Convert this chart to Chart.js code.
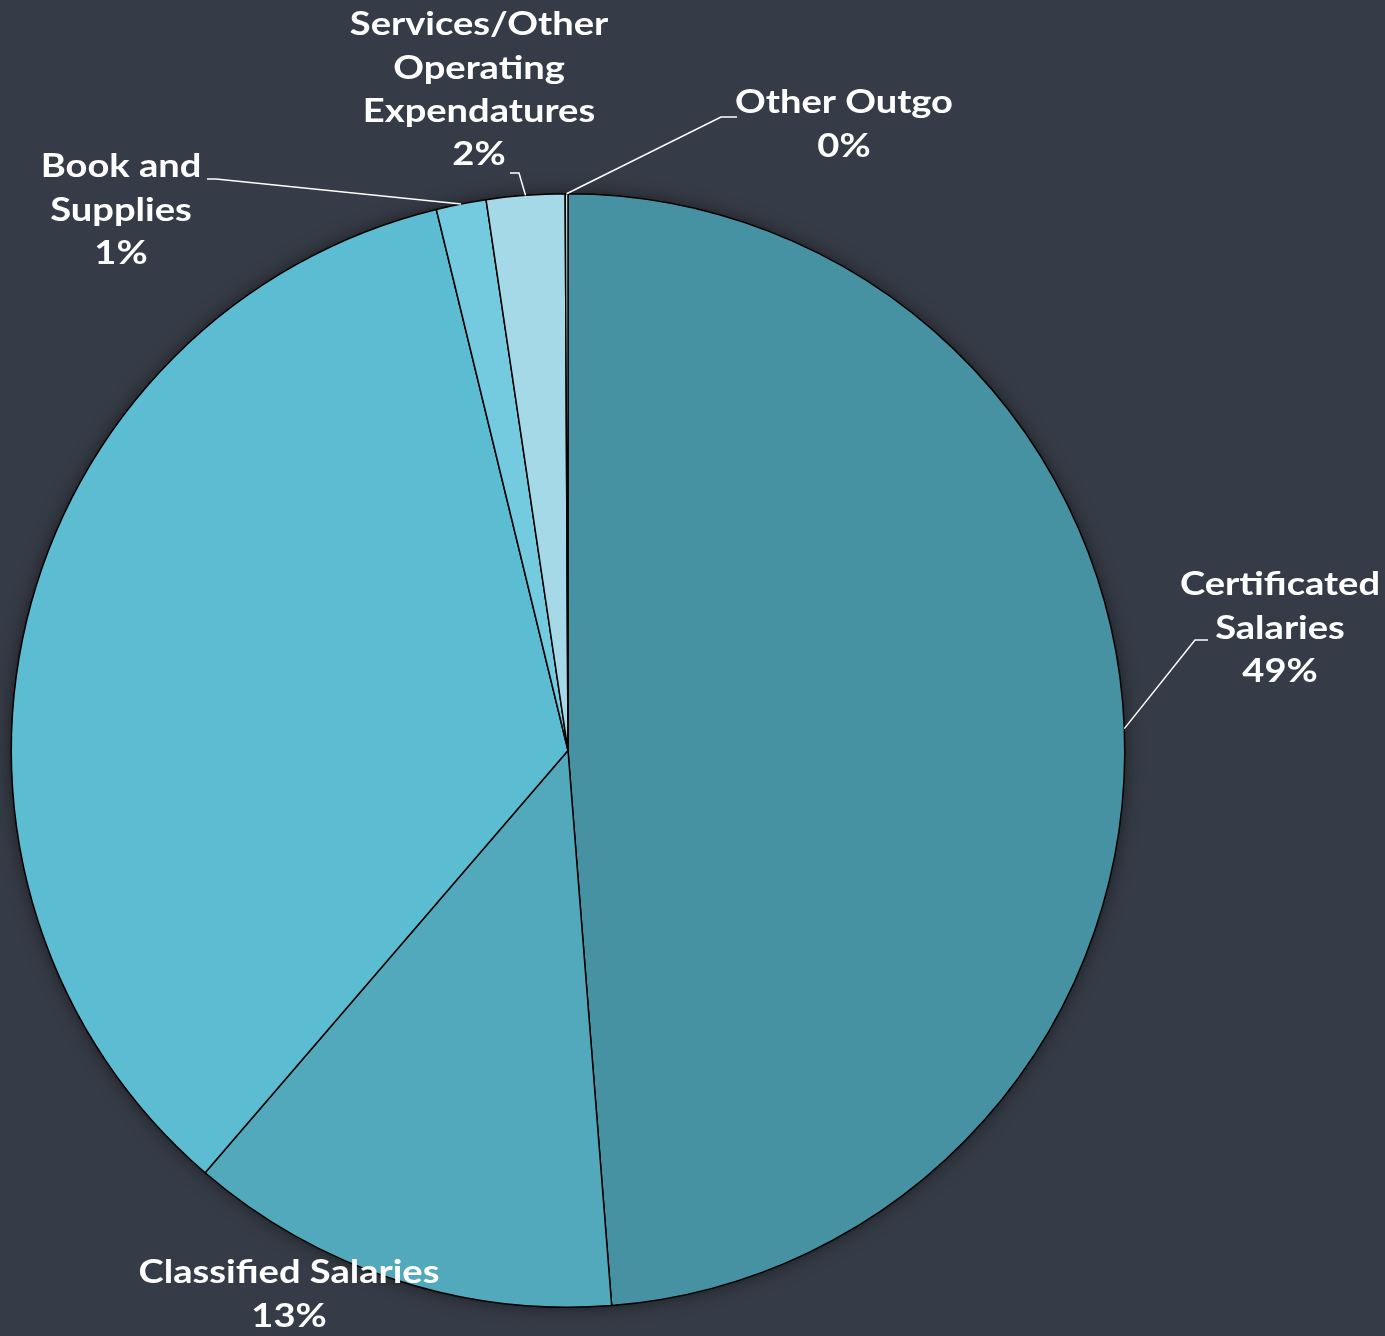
<!DOCTYPE html>
<html>
<head>
<meta charset="utf-8">
<script src="https://cdn.jsdelivr.net/npm/chart.js@4"></script>
<style>
  html, body { margin: 0; padding: 0; background: #363c47; }
  #wrap { width: 1385px; height: 1336px; position: relative; }
</style>
</head>
<body>
<div id="wrap"><canvas id="pieChart"></canvas></div>
<script>
// data (share of total, %)
const categories = ['Certificated Salaries', 'Classified Salaries', 'Employee Benefits',
                    'Book and Supplies', 'Services/Other Operating Expendatures', 'Other Outgo'];
const shares = [48.75, 12.55, 34.9, 1.45, 2.27, 0.08];
const sliceColors = ['#4692a2', '#52a9bc', '#5bbcd2', '#74cbdf', '#a6d9e7', '#c4e6ef'];

// label text lines per slice (null = no label shown)
const labelLines = [
  ['Certificated', 'Salaries'],
  ['Classified Salaries'],
  null,
  ['Book and', 'Supplies'],
  ['Services/Other', 'Operating', 'Expendatures'],
  ['Other Outgo']
];

// where each label sits and how its leader line bends
const labelPlace = [
  { x: 1280, y: 585, elbow: [1195, 640], end: [1208, 640] },
  { x: 289, y: 1273 },
  null,
  { x: 121, y: 167, elbow: [216, 179], end: [207, 179] },
  { x: 479, y: 25, elbow: [519, 173], end: [510, 173] },
  { x: 844, y: 103, elbow: [721, 117], end: [737, 117] }
];

const total = shares.reduce((a, b) => a + b, 0);
const stretch = 1.19; // widen the text to approach the wide geometric face of the original

const pieShadow = {
  id: 'pieShadow',
  beforeDatasetsDraw(chart) {
    const arc = chart.getDatasetMeta(0).data[0];
    const c = chart.ctx;
    c.save();
    c.shadowColor = 'rgba(0,0,0,0.55)';
    c.shadowBlur = 18;
    c.fillStyle = '#363c47';
    c.beginPath();
    c.arc(arc.x, arc.y, arc.outerRadius, 0, Math.PI * 2);
    c.fill();
    c.restore();
  }
};

const sliceLabels = {
  id: 'sliceLabels',
  afterDatasetsDraw(chart) {
    const c = chart.ctx;
    const arcs = chart.getDatasetMeta(0).data;
    c.save();
    c.font = 'bold 32px Lato';
    c.fillStyle = '#ffffff';
    c.textAlign = 'center';
    c.textBaseline = 'middle';
    arcs.forEach((arc, i) => {
      const place = labelPlace[i];
      if (!place) return;
      const lines = labelLines[i].concat([Math.round(shares[i] / total * 100) + '%']);
      if (place.elbow) {
        const mid = (arc.startAngle + arc.endAngle) / 2;
        const sx = arc.x + Math.cos(mid) * arc.outerRadius;
        const sy = arc.y + Math.sin(mid) * arc.outerRadius;
        c.strokeStyle = '#ffffff';
        c.lineWidth = 1.5;
        c.beginPath();
        c.moveTo(sx, sy);
        c.lineTo(place.elbow[0], place.elbow[1]);
        c.lineTo(place.end[0], place.end[1]);
        c.stroke();
      }
      lines.forEach((t, k) => {
        c.save();
        c.translate(place.x, place.y + k * 43.3);
        c.scale(stretch, 1);
        c.fillText(t, 0, 0);
        c.restore();
      });
    });
    c.restore();
  }
};

new Chart(document.getElementById('pieChart'), {
  type: 'pie',
  data: {
    labels: categories,
    datasets: [{
      data: shares,
      backgroundColor: sliceColors,
      borderColor: '#000000',
      borderWidth: 1.5
    }]
  },
  options: {
    responsive: true,
    maintainAspectRatio: false,
    animation: false,
    layout: { padding: { left: 10, right: 259, top: 193, bottom: 28 } },
    plugins: {
      legend: { display: false },
      tooltip: { enabled: false }
    }
  },
  plugins: [pieShadow, sliceLabels]
});
</script>
</body>
</html>
